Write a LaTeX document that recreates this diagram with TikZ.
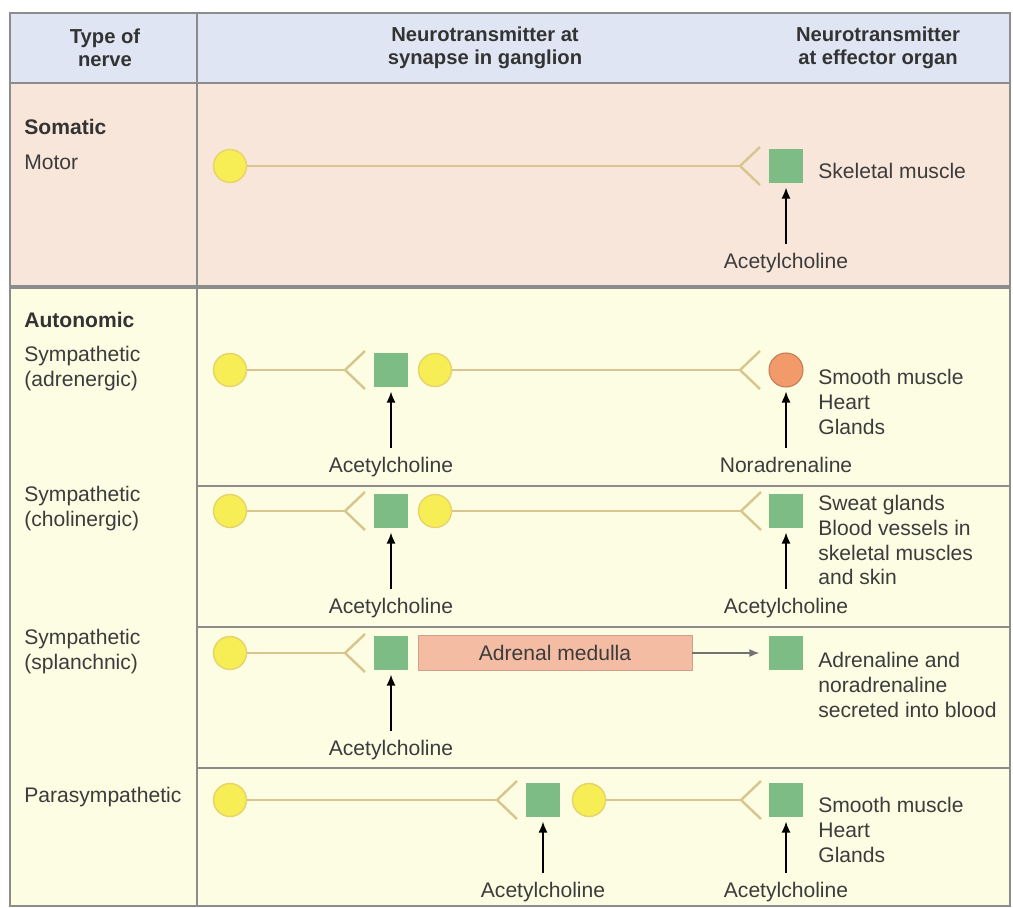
\documentclass[tikz,border=0pt]{standalone}
\usepackage{fontspec}
\setmainfont{Liberation Sans}
\usetikzlibrary{arrows.meta, positioning}

\definecolor{headblue}{HTML}{DFE5F3}
\definecolor{somafill}{HTML}{F9E6DA}
\definecolor{autofill}{HTML}{FDFDE3}
\definecolor{rulegray}{HTML}{8C8C8C}
\definecolor{axontan}{HTML}{D8C68E}
\definecolor{cellyellow}{HTML}{F7EE55}
\definecolor{cellrim}{HTML}{E6D36A}
\definecolor{effgreen}{HTML}{7DBD85}
\definecolor{efforange}{HTML}{F39A6B}
\definecolor{medullafill}{HTML}{F5BCA4}
\definecolor{txtgray}{HTML}{3C3C3C}

\begin{document}
\begin{tikzpicture}[
    x=0.02cm, y=-0.02cm,
    font=\fontsize{12}{14.2}\selectfont,
    text=txtgray,
    node distance=13.5mm,
    rule/.style={draw=rulegray, line width=1pt},
    axon/.style={draw=axontan, line width=1.4pt},
    cell/.style={circle, draw=cellrim, fill=cellyellow, line width=0.8pt, minimum size=6.6mm, inner sep=0pt},
    effector/.style={fill=effgreen, minimum size=6.9mm, inner sep=0pt},
    organ/.style={circle, draw=efforange!80!black, fill=efforange, line width=0.6pt, minimum size=6.8mm, inner sep=0pt},
    medulla/.style={fill=medullafill, draw=medullafill!85!black, line width=0.4pt, minimum width=54.8mm, minimum height=7mm, inner sep=0pt},
    hdr/.style={font=\bfseries\fontsize{11.5}{13}\selectfont, align=center, text=black!80},
    grp/.style={anchor=west, inner sep=0pt, font=\bfseries\fontsize{12}{14.2}\selectfont, text=black!80},
    side/.style={anchor=west, align=left, inner sep=0pt},
    lbl/.style={inner sep=1pt},
    arr/.style={-{Latex[length=2.2mm, width=1.8mm]}, draw=black, line width=0.8pt, shorten <=1.5mm, shorten >=0.8mm}
]
\useasboundingbox (0,0) rectangle (1013,908);
\fill[white] (0,0) rectangle (1013,908);

% table
\fill[headblue] (10,13) rectangle (1010,83);
\fill[somafill] (10,83) rectangle (1010,287);
\fill[autofill] (10,287) rectangle (1010,906);
\draw[rule] (10,13) rectangle (1010,906);
\draw[rule] (197,13) -- (197,906);
\draw[rule, line width=1.4pt] (10,83) -- (1010,83);
\draw[rule, line width=2pt] (10,287) -- (1010,287);
\draw[rule] (197,486) -- (1010,486);
\draw[rule] (197,627) -- (1010,627);
\draw[rule] (197,768) -- (1010,768);

\node[hdr] (h1) at (105,48) {Type of\\nerve};
\node[hdr] (h2) at (485,48) {Neurotransmitter at\\synapse in ganglion};
\node[hdr] (h3) at (878,48) {Neurotransmitter\\at effector organ};

% left column
\node[grp] (somatic) at (24,127) {Somatic};
\node[side] (motor) at (24,162) {Motor};
\node[grp] (autonomic) at (24,320) {Autonomic};
\node[side] (adren) at (24,369) {Sympathetic\\(adrenergic)};
\node[side] (cholin) at (24,509) {Sympathetic\\(cholinergic)};
\node[side] (splanch) at (24,652) {Sympathetic\\(splanchnic)};
\node[side] (para) at (24,797) {Parasympathetic};

% somatic motor
\node[cell] (m1) at (230,166) {};
\coordinate (mk) at (740,166);
\node[effector] (m2) at (786,166) {};
\node[side] (mt) at (818,171) {Skeletal muscle};
\node[lbl, below=of m2] (ma) {Acetylcholine};
\draw[axon] (m1) -- (mk);
\draw[axon] (mk) -- ++(20,-19) (mk) -- ++(20,19);
\draw[arr] (ma) -- (m2);

% sympathetic adrenergic
\node[cell] (a1) at (230,370) {};
\coordinate (ak1) at (345,370);
\node[effector] (a2) at (391,370) {};
\node[cell] (a3) at (435,370) {};
\coordinate (ak2) at (740,370);
\node[organ] (a4) at (786,370) {};
\node[side] (at) at (818,402) {Smooth muscle\\Heart\\Glands};
\node[lbl, below=of a2] (aa1) {Acetylcholine};
\node[lbl, below=of a4] (aa2) {Noradrenaline};
\draw[axon] (a1) -- (ak1);
\draw[axon] (ak1) -- ++(20,-19) (ak1) -- ++(20,19);
\draw[axon] (a3) -- (ak2);
\draw[axon] (ak2) -- ++(20,-19) (ak2) -- ++(20,19);
\draw[arr] (aa1) -- (a2);
\draw[arr] (aa2) -- (a4);

% sympathetic cholinergic
\node[cell] (c1) at (230,511) {};
\coordinate (ck1) at (345,511);
\node[effector] (c2) at (391,511) {};
\node[cell] (c3) at (435,511) {};
\coordinate (ck2) at (741,511);
\node[effector] (c4) at (786,511) {};
\node[side] (ct) at (818,540) {Sweat glands\\Blood vessels in\\skeletal muscles\\and skin};
\node[lbl, below=of c2] (ca1) {Acetylcholine};
\node[lbl, below=of c4] (ca2) {Acetylcholine};
\draw[axon] (c1) -- (ck1);
\draw[axon] (ck1) -- ++(20,-19) (ck1) -- ++(20,19);
\draw[axon] (c3) -- (ck2);
\draw[axon] (ck2) -- ++(20,-19) (ck2) -- ++(20,19);
\draw[arr] (ca1) -- (c2);
\draw[arr] (ca2) -- (c4);

% sympathetic splanchnic
\node[cell] (s1) at (230,653) {};
\coordinate (sk) at (345,653);
\node[effector] (s2) at (391,653) {};
\node[medulla] (s3) at (555,653) {Adrenal medulla};
\node[effector] (s4) at (786,653) {};
\node[side] (st) at (818,685) {Adrenaline and\\noradrenaline\\secreted into blood};
\node[lbl, below=of s2] (sa1) {Acetylcholine};
\draw[axon] (s1) -- (sk);
\draw[axon] (sk) -- ++(20,-19) (sk) -- ++(20,19);
\draw[arr] (sa1) -- (s2);
\draw[-{Latex[length=2mm, width=1.6mm]}, draw=black!55, line width=0.8pt, shorten >=1.8mm] (s3) -- (s4);

% parasympathetic
\node[cell] (p1) at (230,800) {};
\coordinate (pk1) at (497,800);
\node[effector] (p2) at (543,800) {};
\node[cell] (p3) at (589,800) {};
\coordinate (pk2) at (741,800);
\node[effector] (p4) at (786,800) {};
\node[side] (pt) at (818,830) {Smooth muscle\\Heart\\Glands};
\node[lbl, below=12.5mm of p2] (pa1) {Acetylcholine};
\node[lbl, below=12.5mm of p4] (pa2) {Acetylcholine};
\draw[axon] (p1) -- (pk1);
\draw[axon] (pk1) -- ++(20,-19) (pk1) -- ++(20,19);
\draw[axon] (p3) -- (pk2);
\draw[axon] (pk2) -- ++(20,-19) (pk2) -- ++(20,19);
\draw[arr] (pa1) -- (p2);
\draw[arr] (pa2) -- (p4);
\end{tikzpicture}
\end{document}
